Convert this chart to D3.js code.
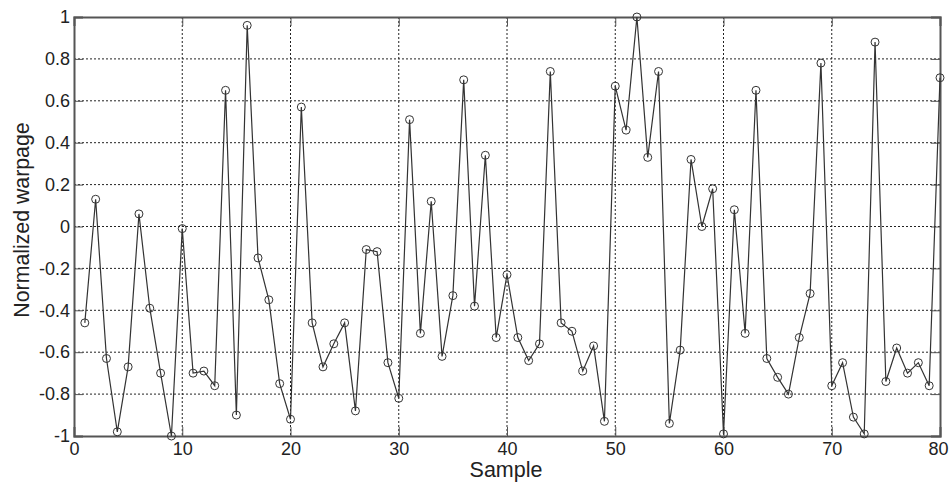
<!DOCTYPE html>
<html>
<head>
<meta charset="utf-8">
<script src="https://cdn.jsdelivr.net/npm/d3@7"></script>
<style>
  body { margin: 0; background: #fff; }
  text { font-family: "Liberation Sans", Arial, sans-serif; fill: #222; }
</style>
</head>
<body>
<div id="chart"></div>
<script>
// Sample numbers 1..80 and the normalized warpage
const samples = d3.range(1, 81);
const warpage = [
  -0.46, 0.13, -0.63, -0.98, -0.67, 0.06, -0.39, -0.70, -1.00, -0.01,
  -0.70, -0.69, -0.76, 0.65, -0.90, 0.96, -0.15, -0.35, -0.75, -0.92,
  0.57, -0.46, -0.67, -0.56, -0.46, -0.88, -0.11, -0.12, -0.65, -0.82,
  0.51, -0.51, 0.12, -0.62, -0.33, 0.70, -0.38, 0.34, -0.53, -0.23,
  -0.53, -0.64, -0.56, 0.74, -0.46, -0.50, -0.69, -0.57, -0.93, 0.67,
  0.46, 1.00, 0.33, 0.74, -0.94, -0.59, 0.32, 0.00, 0.18, -0.99,
  0.08, -0.51, 0.65, -0.63, -0.72, -0.80, -0.53, -0.32, 0.78, -0.76,
  -0.65, -0.91, -0.99, 0.88, -0.74, -0.58, -0.70, -0.65, -0.76, 0.71
];
const xTicks = [0, 10, 20, 30, 40, 50, 60, 70, 80];
const yTicks = [-1, -0.8, -0.6, -0.4, -0.2, 0, 0.2, 0.4, 0.6, 0.8, 1];

const data = samples.map((s, i) => ({ x: s, y: warpage[i] }));

const margin = { top: 17, right: 9, bottom: 46, left: 74 };
const width = 949 - margin.left - margin.right;
const height = 482 - margin.top - margin.bottom;

const svg = d3.select('#chart')
  .append('svg')
  .attr('width', 949)
  .attr('height', 482);

const g = svg.append('g')
  .attr('transform', `translate(${margin.left},${margin.top})`);

const x = d3.scaleLinear().domain([0, 80]).range([0, width]);
const y = d3.scaleLinear().domain([-1, 1]).range([height, 0]);

// Dotted grid
g.append('g')
  .selectAll('line')
  .data(xTicks.slice(1, -1))
  .join('line')
  .attr('x1', d => x(d)).attr('x2', d => x(d))
  .attr('y1', 0).attr('y2', height)
  .attr('stroke', '#222')
  .attr('stroke-width', 1)
  .attr('stroke-dasharray', '2,2');

g.append('g')
  .selectAll('line')
  .data(yTicks.slice(1, -1))
  .join('line')
  .attr('x1', 0).attr('x2', width)
  .attr('y1', d => y(d)).attr('y2', d => y(d))
  .attr('stroke', '#222')
  .attr('stroke-width', 1)
  .attr('stroke-dasharray', '2,2');

// Axes with inward ticks
const fmtY = d => d === 0 ? '0' : String(+d.toFixed(1));

const xAxis = g.append('g')
  .attr('transform', `translate(0,${height})`)
  .call(d3.axisBottom(x).tickValues(xTicks).tickSize(-9).tickPadding(6).tickFormat(d3.format('d')));
const yAxis = g.append('g')
  .call(d3.axisLeft(y).tickValues(yTicks).tickSize(-9).tickPadding(4).tickFormat(fmtY));
const xTop = g.append('g')
  .call(d3.axisTop(x).tickValues(xTicks).tickSize(-9).tickFormat(''));
const yRight = g.append('g')
  .attr('transform', `translate(${width},0)`)
  .call(d3.axisRight(y).tickValues(yTicks).tickSize(-9).tickFormat(''));

[xAxis, yAxis, xTop, yRight].forEach(a => {
  a.select('.domain').attr('stroke', '#555').attr('stroke-width', 2);
  a.selectAll('.tick line').attr('stroke', '#555').attr('stroke-width', 1);
  a.selectAll('.tick text').style('font-size', '18px').attr('fill', '#222');
});

// keep the last x label inside the page edge
xAxis.selectAll('.tick text').filter(d => d === 80).attr('dx', -2);

// Data line and circle markers
const line = d3.line().x(d => x(d.x)).y(d => y(d.y));

g.append('path')
  .datum(data)
  .attr('d', line)
  .attr('fill', 'none')
  .attr('stroke', '#333')
  .attr('stroke-width', 1.2);

g.selectAll('.marker')
  .data(data)
  .join('circle')
  .attr('class', 'marker')
  .attr('cx', d => x(d.x))
  .attr('cy', d => y(d.y))
  .attr('r', 4)
  .attr('fill', 'none')
  .attr('stroke', '#333')
  .attr('stroke-width', 1);

// Axis labels
g.append('text')
  .attr('x', width / 2 - 1)
  .attr('y', height + 41)
  .attr('text-anchor', 'middle')
  .style('font-size', '21.5px')
  .text('Sample');

g.append('text')
  .attr('transform', 'rotate(-90)')
  .attr('x', -203)
  .attr('y', -45)
  .attr('text-anchor', 'middle')
  .style('font-size', '21.3px')
  .text('Normalized warpage');
</script>
</body>
</html>
